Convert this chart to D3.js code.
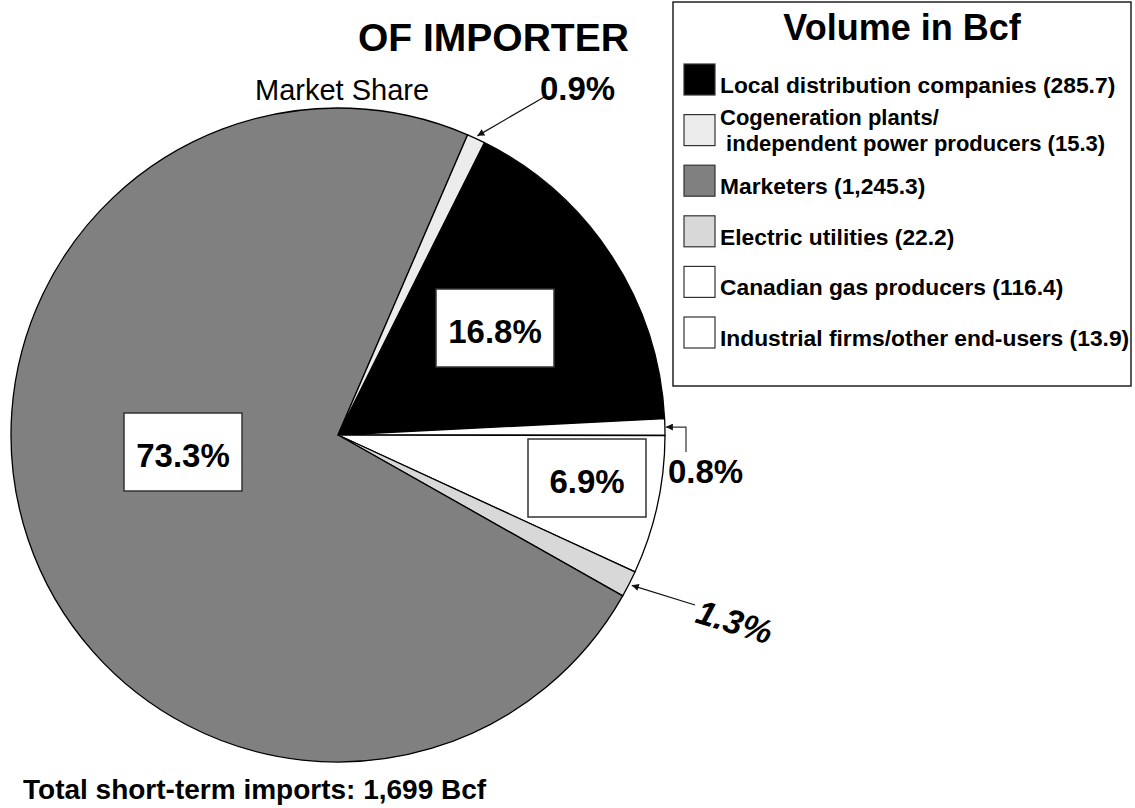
<!DOCTYPE html>
<html>
<head>
<meta charset="utf-8">
<script src="https://cdn.jsdelivr.net/npm/d3@7"></script>
<style>
  body { margin: 0; background: #fff; }
  svg { display: block; font-family: "Liberation Sans", Arial, sans-serif; }
</style>
</head>
<body>
<svg id="chart" width="1135" height="808"></svg>
<script>
// importer categories, in legend order
var sectors = ["Local distribution companies", "Cogeneration plants/", "Marketers",
  "Electric utilities", "Canadian gas producers", "Industrial firms/other end-users"];
var sectorSecondLine = ["", " independent power producers", "", "", "", ""];
var volumes = [285.7, 15.3, 1245.3, 22.2, 116.4, 13.9];
var shares = ["16.8%", "0.9%", "73.3%", "1.3%", "6.9%", "0.8%"];
// order the slices run clockwise from the start angle
var sliceOrder = [0, 5, 4, 3, 2, 1];
var totalLabel = "Total short-term imports: 1,699 Bcf";

var fills = ["#000000", "#ececec", "#808080", "#d8d8d8", "#ffffff", "#ffffff"];

var svg = d3.select("#chart");
var cx = 338, cy = 435, radius = 327;
var deg = Math.PI / 180;

svg.append("defs").append("marker")
  .attr("id", "arrow")
  .attr("viewBox", "0 0 10 10")
  .attr("refX", 10).attr("refY", 5)
  .attr("markerWidth", 10).attr("markerHeight", 7)
  .attr("markerUnits", "userSpaceOnUse")
  .attr("orient", "auto")
  .append("path")
    .attr("d", "M0,0L10,5L0,10z")
    .attr("fill", "#111");

var pie = d3.pie()
  .sort(null)
  .value(function(d) { return volumes[d]; })
  .startAngle(26.6 * deg)
  .endAngle(26.6 * deg + 2 * Math.PI);

var arcs = pie(sliceOrder);
var arc = d3.arc().innerRadius(0).outerRadius(radius);

var pieG = svg.append("g").attr("transform", "translate(" + cx + "," + cy + ")");
pieG.selectAll("path.slice")
  .data(arcs)
  .enter()
  .append("path")
    .attr("class", "slice")
    .attr("d", arc)
    .attr("fill", function(d) { return fills[d.data]; })
    .attr("stroke", "#000")
    .attr("stroke-width", 1.3)
    .attr("stroke-linejoin", "round");

var arcFor = function(i) {
  return arcs.filter(function(a) { return a.data === i; })[0];
};
var edgePoint = function(i, r) {
  var a = arcFor(i);
  var mid = (a.startAngle + a.endAngle) / 2;
  return [cx + r * Math.sin(mid), cy - r * Math.cos(mid)];
};

// boxed labels for the big slices
var boxLabels = [
  { i: 0, x: 495, y: 328 },
  { i: 2, x: 183, y: 452 },
  { i: 4, x: 587, y: 478 }
];
boxLabels.forEach(function(b) {
  svg.append("rect")
    .attr("x", b.x - 59).attr("y", b.y - 39)
    .attr("width", 118).attr("height", 78)
    .attr("fill", "#fff")
    .attr("stroke", "#333")
    .attr("stroke-width", 1.5);
  svg.append("text")
    .attr("x", b.x).attr("y", b.y + 15)
    .attr("text-anchor", "middle")
    .style("font-size", "33px")
    .style("font-weight", "bold")
    .text(shares[b.i]);
});

// small slices get call-outs with arrows
var tip = edgePoint(1, radius + 3);
svg.append("path")
  .attr("d", "M546,96L" + tip[0] + "," + tip[1])
  .attr("stroke", "#111").attr("stroke-width", 1.2).attr("fill", "none")
  .attr("marker-end", "url(#arrow)");
svg.append("text")
  .attr("x", 540).attr("y", 100)
  .style("font-size", "33px").style("font-weight", "bold")
  .text(shares[1]);

tip = edgePoint(5, radius + 1);
svg.append("path")
  .attr("d", "M686,452L686," + tip[1] + "L" + tip[0] + "," + tip[1])
  .attr("stroke", "#333").attr("stroke-width", 1.2).attr("fill", "none")
  .attr("marker-end", "url(#arrow)");
svg.append("text")
  .attr("x", 668).attr("y", 483)
  .style("font-size", "33px").style("font-weight", "bold")
  .text(shares[5]);

tip = edgePoint(3, radius + 3);
svg.append("path")
  .attr("d", "M695,605L" + tip[0] + "," + tip[1])
  .attr("stroke", "#111").attr("stroke-width", 1.2).attr("fill", "none")
  .attr("marker-end", "url(#arrow)");
svg.append("text")
  .attr("transform", "translate(694,622) rotate(17)")
  .style("font-size", "34px").style("font-weight", "bold").style("font-style", "italic")
  .text(shares[3]);

// titles
svg.append("text")
  .attr("x", 358).attr("y", 51)
  .style("font-size", "39px").style("font-weight", "bold")
  .text("OF IMPORTER");
svg.append("text")
  .attr("x", 255).attr("y", 100)
  .style("font-size", "29px")
  .text("Market Share");
svg.append("text")
  .attr("x", 23).attr("y", 799)
  .style("font-size", "28px").style("font-weight", "bold")
  .text(totalLabel);

// legend
var legend = svg.append("g");
legend.append("rect")
  .attr("x", 673).attr("y", 2)
  .attr("width", 458).attr("height", 384)
  .attr("fill", "#fff")
  .attr("stroke", "#222")
  .attr("stroke-width", 1.5);
legend.append("text")
  .attr("x", 902).attr("y", 40)
  .attr("text-anchor", "middle")
  .style("font-size", "36px").style("font-weight", "bold")
  .text("Volume in Bcf");

var fmt = d3.format(",.1f");
var item = legend.selectAll("g.item")
  .data(sectors)
  .enter()
  .append("g")
    .attr("class", "item")
    .attr("transform", function(d, i) { return "translate(684," + (64 + i * 50.6) + ")"; });
item.append("rect")
  .attr("width", 31).attr("height", 31)
  .attr("fill", function(d, i) { return fills[i]; })
  .attr("stroke", "#333").attr("stroke-width", 1.2);
item.append("text")
  .attr("x", 36)
  .attr("y", function(d, i) { return sectorSecondLine[i] ? 10 : 29; })
  .style("font-size", function(d, i) { return sectorSecondLine[i] ? "22px" : "22.8px"; })
  .style("font-weight", "bold")
  .text(function(d, i) { return sectorSecondLine[i] ? d : d + " (" + fmt(volumes[i]) + ")"; });
item.filter(function(d, i) { return sectorSecondLine[i]; })
  .append("text")
    .attr("x", 36).attr("y", 36)
    .attr("xml:space", "preserve")
    .style("white-space", "pre")
    .style("font-size", "22px").style("font-weight", "bold")
    .text(function(d) {
      var i = sectors.indexOf(d);
      return sectorSecondLine[i] + " (" + fmt(volumes[i]) + ")";
    });
</script>
</body>
</html>
